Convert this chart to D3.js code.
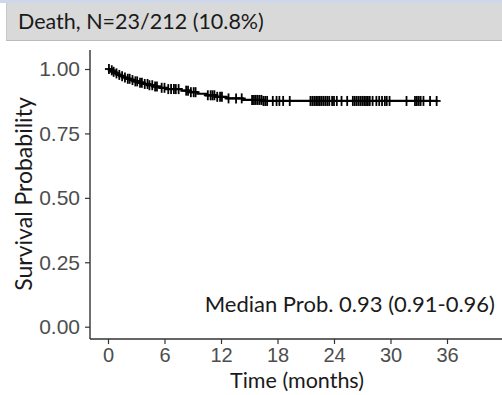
<!DOCTYPE html>
<html>
<head>
<meta charset="utf-8">
<script src="https://cdn.jsdelivr.net/npm/d3@7"></script>
<style>
  html, body { margin: 0; padding: 0; background: #fff; }
  svg { display: block; font-family: Lato, "Open Sans", sans-serif; }
</style>
</head>
<body>
<svg id="chart" width="502" height="395"></svg>
<script>
// KM step points (months, survival)
const stepTimes = [0, 0.2, 0.5, 0.8, 1.1, 1.4, 1.7, 2.0, 2.4, 2.8, 3.3, 3.8, 4.3, 4.9, 5.5, 6.2, 7.8, 8.6, 9.5, 10.4, 11.4, 12.6, 14.3, 16.5]
const stepSurv = [1, .995, .989, .983, .977, .972, .967, .962, .957, .952, .947, .942, .937, .932, .927, .922, .916, .910, .904, .898, .892, .886, .880, .876]
const lastTime = 35.0

// censored times (the + marks)
const censorTimes = [
  0.1, 0.4, 0.6, 0.9, 1.2, 1.5, 1.8, 2.1, 2.3, 2.6, 2.9, 3.1, 3.4, 3.6, 3.9, 4.2, 4.4, 4.7, 5.0, 5.2,
  5.7, 6.0, 6.4, 6.7, 7.0, 7.2, 7.5, 8.3, 8.5, 8.8, 9.1, 9.3, 10.6, 10.9, 11.1, 11.3, 11.6, 11.9, 12.1,
  12.8, 13.6, 14.2, 15.3, 15.5, 15.7, 15.9, 16.1, 16.3, 16.5, 16.7, 16.9, 17.5, 17.9, 18.2, 18.6, 19.3,
  21.5, 21.7, 21.9, 22.1, 22.3, 22.5, 22.7, 22.9, 23.1, 23.3, 23.5, 23.8, 24.0, 24.3, 24.8, 25.4,
  26.0, 26.2, 26.4, 26.6, 26.8, 27.0, 27.2, 27.4, 27.6, 27.8, 28.1, 28.5, 28.8, 29.1, 29.4, 29.6, 29.9,
  31.7, 32.6, 32.8, 33.0, 33.2, 33.5, 34.2, 34.9
]

const xTicks = [0, 6, 12, 18, 24, 30, 36]
const yTicks = [0, 0.25, 0.5, 0.75, 1]

const headerText = 'Death, N=23/212 (10.8%)'
const medianText = 'Median Prob. 0.93 (0.91-0.96)'

const svg = d3.select('#chart')

// header band
svg.append('rect').attr('x', 0).attr('y', 0).attr('width', 502).attr('height', 3).attr('fill', '#cdd9ea')
svg.append('rect').attr('x', 6).attr('y', 3).attr('width', 496).attr('height', 37)
  .attr('fill', '#d9d9d9')
svg.append('line').attr('x1', 6).attr('x2', 502).attr('y1', 40.5).attr('y2', 40.5)
  .attr('stroke', '#bcbcbc').attr('stroke-width', 1)
svg.append('line').attr('x1', 6.5).attr('x2', 6.5).attr('y1', 3).attr('y2', 40)
  .attr('stroke', '#c8c8c8').attr('stroke-width', 1)
svg.append('text').attr('x', 18).attr('y', 29)
  .attr('font-size', 21.5).attr('fill', '#1a1a1a')
  .text(headerText)

// panel
const left = 90, bottom = 339
const x = d3.scaleLinear().domain([0, 36]).range([108, 447])
const y = d3.scaleLinear().domain([0, 1]).range([326.7, 69])

const axisColor = '#333333', tickText = '#4d4d4d'

// y axis
const yAxis = svg.append('g').attr('transform', `translate(${left},0)`)
  .call(d3.axisLeft(y).tickValues(yTicks).tickFormat(d3.format('.2f')).tickSizeOuter(0).tickSize(5).tickPadding(5))
yAxis.select('.domain').remove()
yAxis.selectAll('line').attr('stroke', axisColor).attr('stroke-width', 1.2)
yAxis.selectAll('text').attr('font-size', 21).attr('fill', tickText).attr('font-family', null)
svg.append('line').attr('x1', left).attr('x2', left).attr('y1', 50).attr('y2', bottom)
  .attr('stroke', axisColor).attr('stroke-width', 1.4)

// x axis
const xAxis = svg.append('g').attr('transform', `translate(0,${bottom})`)
  .call(d3.axisBottom(x).tickValues(xTicks).tickSizeOuter(0).tickSize(5).tickPadding(4))
xAxis.select('.domain').remove()
xAxis.selectAll('line').attr('stroke', axisColor).attr('stroke-width', 1.2)
xAxis.selectAll('text').attr('font-size', 20).attr('fill', tickText).attr('font-family', null)
svg.append('line').attr('x1', left).attr('x2', 502).attr('y1', bottom).attr('y2', bottom)
  .attr('stroke', axisColor).attr('stroke-width', 1.4)

// axis titles
svg.append('text').attr('x', 297).attr('y', 388).attr('text-anchor', 'middle')
  .attr('font-size', 21.5).attr('fill', '#1a1a1a').text('Time (months)')
svg.append('text').attr('transform', 'translate(32,194) rotate(-90)').attr('text-anchor', 'middle')
  .attr('font-size', 23).attr('fill', '#1a1a1a').text('Survival Probability')

// KM curve
const stepData = stepTimes.map((t, i) => ({ t, s: stepSurv[i] }))
stepData.push({ t: lastTime, s: stepSurv[stepSurv.length - 1] })
const line = d3.line().x(d => x(d.t)).y(d => y(d.s)).curve(d3.curveStepAfter)
svg.append('path').datum(stepData).attr('d', line)
  .attr('fill', 'none').attr('stroke', '#000').attr('stroke-width', 2.2)

// censor marks sit on the curve
const survAt = t => stepSurv[d3.bisectRight(stepTimes, t) - 1]
const marks = svg.append('g').attr('stroke', '#000').attr('stroke-width', 1.8)
censorTimes.forEach(t => {
  const cx = x(t), cy = y(survAt(t))
  marks.append('line').attr('x1', cx).attr('x2', cx).attr('y1', cy - 5).attr('y2', cy + 5)
  marks.append('line').attr('x1', cx - 4).attr('x2', cx + 4).attr('y1', cy).attr('y2', cy)
})

// median annotation
svg.append('text').attr('x', 495).attr('y', 312).attr('text-anchor', 'end')
  .attr('font-size', 22).attr('fill', '#1a1a1a').text(medianText)
</script>
</body>
</html>
